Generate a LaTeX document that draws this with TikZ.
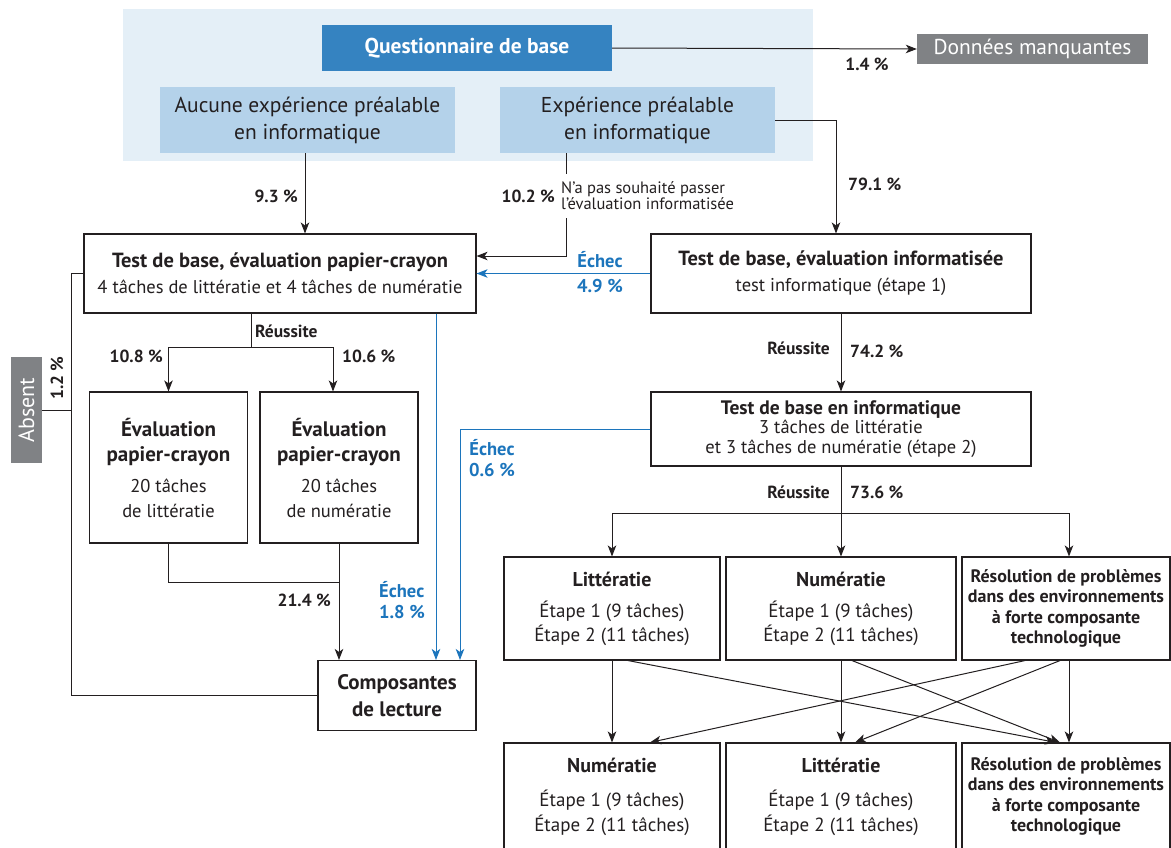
\documentclass[tikz,border=0pt]{standalone}
\usepackage{fontspec}
\setmainfont{PT Sans}
\usetikzlibrary{arrows.meta,calc}
\definecolor{bgblue}{HTML}{E4EFF7}
\definecolor{qblue}{HTML}{3583C1}
\definecolor{lblue}{HTML}{B4D2EA}
\definecolor{grayb}{HTML}{808285}
\definecolor{ink}{HTML}{231F20}
\definecolor{fblue}{HTML}{1C75BC}
\newcommand{\ttlA}[1]{{\fontsize{20.5}{26}\selectfont\bfseries #1}}
\newcommand{\ttlB}[1]{{\fontsize{21}{25}\selectfont\bfseries #1}}
\newcommand{\ttlC}[1]{{\fontsize{19.5}{19.5}\selectfont\bfseries #1}}
\newcommand{\ttlD}[1]{{\fontsize{20}{24}\selectfont\bfseries #1}}
\begin{document}
\begin{tikzpicture}[x=1pt,y=-1pt,
  box/.style={draw=ink, line width=1.1pt, fill=white, inner sep=0pt, align=center, text=ink},
  lbox/.style={fill=lblue, inner sep=0pt, align=center, text=ink, font=\fontsize{21.5}{27}\selectfont},
  conn/.style={draw=ink, line width=1pt},
  arr/.style={conn, -{Stealth[length=11pt,width=8.5pt,inset=3pt]}},
  barr/.style={draw=fblue, line width=1pt, -{Stealth[length=11pt,width=8.5pt,inset=3pt]}},
  bline/.style={draw=fblue, line width=1pt},
  pct/.style={text=ink, font=\fontsize{17.5}{18}\selectfont\bfseries, inner sep=0pt},
  bpct/.style={text=fblue, font=\fontsize{18.5}{21}\selectfont\bfseries, inner sep=0pt},
  small/.style={text=ink, font=\fontsize{16.5}{16}\selectfont, align=left, inner xsep=2pt, inner ysep=8pt}
]
\useasboundingbox (0,0) rectangle (1171,847);
% background
\fill[bgblue] (123,9) rectangle (813,161);

% nodes
\node[fill=qblue, text=white, minimum width=290pt, minimum height=46pt, inner sep=0pt,
  font=\fontsize{21.5}{24}\selectfont\bfseries] (qdb) at (467,48) {Questionnaire de base};
\node[fill=grayb, text=white, minimum width=231pt, minimum height=30pt, inner sep=0pt,
  font=\fontsize{21.5}{24}\selectfont] (dm) at (1032.5,49) {Données manquantes};
\node[lbox, minimum width=295pt, minimum height=66pt] (auc) at (307.5,120)
  {Aucune expérience préalable\\en informatique};
\node[lbox, minimum width=275pt, minimum height=66pt] (exp) at (637.5,120)
  {Expérience préalable\\en informatique};

\node[box, minimum width=392pt, minimum height=79pt, font=\fontsize{18.5}{26}\selectfont] (tpc) at (280,273.5)
  {\ttlA{Test de base, évaluation papier-crayon}\\4 tâches de littératie et 4 tâches de numératie};
\node[box, minimum width=380pt, minimum height=79pt, font=\fontsize{18.5}{26}\selectfont] (tinf) at (841,273.5)
  {\ttlA{Test de base, évaluation informatisée}\\test informatique (étape 1)};

\node[box, minimum width=158pt, minimum height=151pt, font=\fontsize{18.5}{25}\selectfont] (ev1) at (168.5,467.5)
  {\ttlB{Évaluation}\\\ttlB{papier-crayon}\\[6pt]20 tâches\\de littératie};
\node[box, minimum width=158pt, minimum height=151pt, font=\fontsize{18.5}{25}\selectfont] (ev2) at (339,467.5)
  {\ttlB{Évaluation}\\\ttlB{papier-crayon}\\[6pt]20 tâches\\de numératie};
\node[box, minimum width=158pt, minimum height=70pt, font=\fontsize{21}{27}\selectfont\bfseries] (comp) at (397,695.5)
  {Composantes\\de lecture};

\node[box, minimum width=380pt, minimum height=74pt, font=\fontsize{18.5}{19.5}\selectfont] (tbi) at (841,429)
  {\ttlC{Test de base en informatique}\\3 tâches de littératie\\et 3 tâches de numératie (étape 2)};

\node[box, minimum width=216pt, minimum height=103pt, font=\fontsize{19}{24}\selectfont] (lit1) at (612,608.5)
  {\ttlD{Littératie}\\[7pt]Étape 1 (9 tâches)\\Étape 2 (11 tâches)};
\node[box, minimum width=230pt, minimum height=103pt, font=\fontsize{19}{24}\selectfont] (num1) at (841,608.5)
  {\ttlD{Numératie}\\[7pt]Étape 1 (9 tâches)\\Étape 2 (11 tâches)};
\node[box, minimum width=208pt, minimum height=103pt, font=\fontsize{18}{20.3}\selectfont\bfseries] (res1) at (1066,608.5)
  {Résolution de problèmes\\dans des environnements\\à forte composante\\technologique};

\node[box, minimum width=216pt, minimum height=107pt, font=\fontsize{19}{25}\selectfont] (num2) at (612,796.5)
  {\ttlD{Numératie}\\[9pt]Étape 1 (9 tâches)\\Étape 2 (11 tâches)};
\node[box, minimum width=230pt, minimum height=107pt, font=\fontsize{19}{25}\selectfont] (lit2) at (841,796.5)
  {\ttlD{Littératie}\\[9pt]Étape 1 (9 tâches)\\Étape 2 (11 tâches)};
\node[box, minimum width=208pt, minimum height=107pt, font=\fontsize{18}{20.5}\selectfont\bfseries] (res2) at (1066,796.5)
  {Résolution de problèmes\\dans des environnements\\à forte composante\\technologique};

\node[fill=grayb, text=white, minimum width=106pt, minimum height=31pt, inner sep=0pt, rotate=90,
  font=\fontsize{22}{24}\selectfont] (abs) at (26.5,410) {Absent};

\node[small, anchor=west] (nap) at (559,196) {N’a pas souhaité passer\\l’évaluation informatisée};

% helper coordinates
\coordinate (xa) at (71,0);
\coordinate (b1) at (436,0);
\coordinate (b2) at (460,0);
\coordinate (x1) at (566,0);
\coordinate (br1) at (251,347);
\coordinate (j1) at (339,582);
\coordinate (br2) at (841,513);

% connectors top
\draw[arr] (qdb.east) -- (dm.west);
\draw[arr] ([xshift=-2.5pt]auc.south) -- ([xshift=25pt]tpc.north);
\draw[conn] (exp.south -| x1) -- (nap.north -| x1);
\draw[arr] (nap.south -| x1) |- ([yshift=17.5pt]tpc.east);
\draw[arr] (exp.east) -| ([xshift=-5pt]tinf.north);
\draw[barr] (tinf.west) -- (tpc.east);

% left part
\draw[conn] (tpc.south -| br1) -- (br1);
\draw[arr] (br1) -| (ev1.north);
\draw[arr] (br1) -| ([xshift=-6pt]ev2.north);
\draw[conn] (ev1.south) |- (j1);
\draw[arr] (ev2.south) -- (ev2.south |- comp.north);
\draw[barr] (tpc.south -| b1) -- (comp.north -| b1);
\draw[barr] (tbi.west) -| (comp.north -| b2);
\draw[conn] (tpc.west) -| (xa |- comp.west) -- (comp.west);
\draw[conn] (abs.south) -- (abs.south -| xa);

% right part
\draw[arr] (tinf.south) -- (tbi.north);
\draw[conn] (tbi.south) -- (br2);
\draw[arr] (br2) -| (lit1.north);
\draw[arr] (br2) -- (num1.north);
\draw[arr] (br2) -| ([xshift=3pt]res1.north);

\draw[arr] (lit1.south) -- (num2.north);
\draw[arr] ([xshift=16pt]lit1.south) -- ([xshift=-10pt]res2.north);
\draw[arr] (num1.south) -- (lit2.north);
\draw[arr] ([xshift=11pt]num1.south) -- ([xshift=-6pt]res2.north);
\draw[arr] ([xshift=-41pt]res1.south) -- ([xshift=38pt]num2.north);
\draw[arr] ([xshift=-6pt]res1.south) -- ([xshift=14pt]lit2.north);
\draw[arr] ([xshift=3pt]res1.south) -- ([xshift=3pt]res2.north);

% labels
\node[pct] (l14) at (867,64) {1.4 \%};
\node[pct, anchor=east] (l93) at (298,196) {9.3 \%};
\node[pct, anchor=east] (l102) at (555,196) {10.2 \%};
\node[pct, anchor=west] (l791) at (848,184) {79.1 \%};
\node[bpct] (e1) at (600,260) {Échec};
\node[bpct] (e1p) at (600,286) {4.9 \%};
\node[pct, anchor=west] (r1) at (255,331) {Réussite};
\node[pct, anchor=east] (l108) at (163,356) {10.8 \%};
\node[pct, anchor=west] (l106) at (342,356) {10.6 \%};
\node[pct, rotate=90] (l12) at (57,378) {1.2 \%};
\node[pct, anchor=east] (l214) at (331,600) {21.4 \%};
\node[bpct, anchor=west, align=left] (e2) at (379,600.5) {Échec\\1.8 \%};
\node[bpct, align=center] (e3) at (492,458) {Échec\\0.6 \%};
\node[pct, anchor=east] (r2) at (830,348) {Réussite};
\node[pct, anchor=west] (l742) at (850,351) {74.2 \%};
\node[pct, anchor=east] (r3) at (830,492) {Réussite};
\node[pct, anchor=west] (l736) at (850,492) {73.6 \%};
\end{tikzpicture}
\end{document}
